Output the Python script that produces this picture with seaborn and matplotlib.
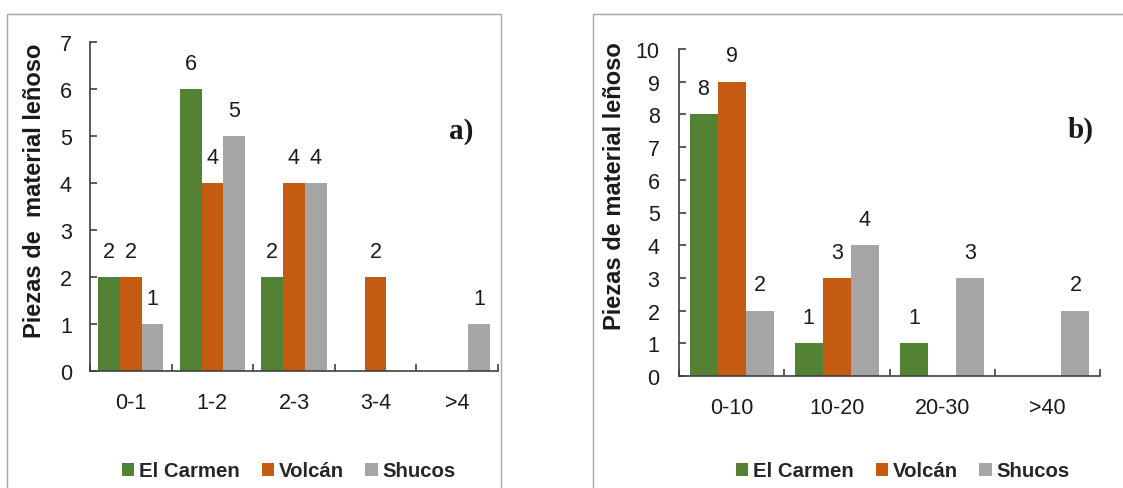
import seaborn as sns
import matplotlib.pyplot as plt
import pandas as pd
from matplotlib.patches import Rectangle
from matplotlib.ticker import FixedLocator

sns.set_theme(style="white")
plt.rcParams['font.family'] = ['Liberation Sans', 'DejaVu Sans']

sites = ["El Carmen", "Volcán", "Shucos"]
colors = ["#548235", "#C55A11", "#A5A5A5"]

# panel a) diameter classes
cats_a = ["0-1", "1-2", "2-3", "3-4", ">4"]
carmen_a = [2, 6, 2, 0, 0]
volcan_a = [2, 4, 4, 2, 0]
shucos_a = [1, 5, 4, 0, 1]

# panel b) length classes
cats_b = ["0-10", "10-20", "20-30", ">40"]
carmen_b = [8, 1, 1, 0]
volcan_b = [9, 3, 0, 0]
shucos_b = [2, 4, 3, 2]


def long_table(cats, series):
    rows = []
    for site, vals in zip(sites, series):
        for c, v in zip(cats, vals):
            rows.append({"clase": c, "sitio": site, "n": v})
    return pd.DataFrame(rows)


def draw_panel(ax, cats, series, ymax, ylabel, tag, tag_xy, label_xy, tickpad):
    df = long_table(cats, series)
    sns.barplot(data=df, x="clase", y="n", hue="sitio", order=cats, hue_order=sites,
                palette=colors, saturation=1, linewidth=0, width=0.8, ax=ax, legend=True)
    for cont in ax.containers:
        labels = [str(int(v)) if v > 0 else "" for v in cont.datavalues]
        ax.bar_label(cont, labels=labels, padding=11, fontsize=15.5, color="#1a1a1a")
    ax.set_ylim(0, ymax)
    ax.set_yticks(range(0, ymax + 1))
    ax.set_xlim(-0.5, len(cats) - 0.5)
    ax.xaxis.set_minor_locator(FixedLocator([i - 0.5 for i in range(len(cats) + 1)]))
    ax.tick_params(axis="x", which="major", length=0, pad=15, labelsize=15.5, colors="#1a1a1a")
    ax.tick_params(axis="x", which="minor", direction="in", length=5, width=1.2,
                   color="#404040", bottom=True)
    ax.tick_params(axis="y", direction="in", length=5, width=1.2, color="#404040",
                   pad=tickpad, labelsize=15.5, labelcolor="#1a1a1a", left=True)
    ax.set_xlabel("")
    ax.set_ylabel(ylabel, fontsize=17, fontweight="bold", color="#1a1a1a")
    ax.yaxis.set_label_coords(*label_xy)
    for s in ["top", "right"]:
        ax.spines[s].set_visible(False)
    for s in ["left", "bottom"]:
        ax.spines[s].set_color("#404040")
        ax.spines[s].set_linewidth(1.2)
    ax.text(tag_xy[0], tag_xy[1], tag, transform=ax.transAxes, fontsize=21,
            fontweight="bold", family=["Liberation Serif", "DejaVu Serif"],
            ha="center", va="center", color="#1a1a1a")
    handles, labs = ax.get_legend_handles_labels()
    ax.get_legend().remove()
    return handles, labs


W, H = 1123, 489
fig = plt.figure(figsize=(W / 100, H / 100), dpi=100)

# panel frames
fig.patches.append(Rectangle((7 / W, -0.1), 494 / W, 1.1 - 15 / H, transform=fig.transFigure,
                             fill=False, edgecolor="#A6A6A6", linewidth=1.0))
fig.patches.append(Rectangle((593 / W, -0.1), 0.6, 1.1 - 15 / H, transform=fig.transFigure,
                             fill=False, edgecolor="#A6A6A6", linewidth=1.0))

ax1 = fig.add_axes([90 / W, 1 - 372 / H, 408 / W, 329 / H])
ax2 = fig.add_axes([679 / W, 1 - 377 / H, 421 / W, 327 / H])

h1, l1 = draw_panel(ax1, cats_a, [carmen_a, volcan_a, shucos_a], 7,
                    "Piezas de  material leñoso", "a)", (0.91, 0.73), (-0.108, 0.55), 13)
h2, l2 = draw_panel(ax2, cats_b, [carmen_b, volcan_b, shucos_b], 10,
                    "Piezas de material leñoso", "b)", (0.955, 0.755), (-0.125, 0.585), 14)

leg_kw = dict(loc="center", ncol=3, frameon=False, handlelength=0.6, handleheight=0.6,
              handletextpad=0.25, columnspacing=1.05,
              prop={"size": 14.7, "weight": "bold"})
fig.legend(h1, l1, bbox_to_anchor=(289 / W, 1 - 472 / H), **leg_kw)
fig.legend(h2, l2, bbox_to_anchor=(903 / W, 1 - 472 / H), **leg_kw)

fig.savefig("out.png", dpi=100)
